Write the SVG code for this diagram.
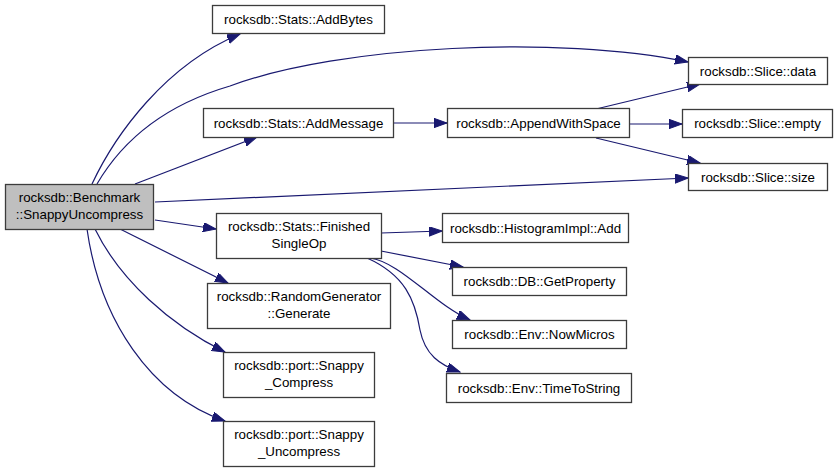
<svg xmlns="http://www.w3.org/2000/svg" width="837" height="472" viewBox="0 0 837 472">
<style>
.n rect{fill:#ffffff;stroke:#3c3c3c;stroke-width:1.3}
.n.main rect{fill:#bfbfbf}
.n text{font-family:"Liberation Sans",Arial,sans-serif;font-size:13.33px;fill:#000;text-anchor:middle}
.e path{fill:none;stroke:#191970;stroke-width:1.2;marker-end:url(#ah)}
</style>
<defs>
<marker id="ah" markerUnits="userSpaceOnUse" markerWidth="14" markerHeight="10" refX="13" refY="4.65" orient="auto">
<path d="M0,0 L13,4.65 L0,9.3 z" fill="#191970" stroke="#191970" stroke-width="1"/>
</marker>
</defs>
<rect width="837" height="472" fill="#ffffff"/>
<g id="edges" class="e">
<path d="M92,184 C115,135 165,65 240,34"/>
<path d="M97,184 C118,148 155,108 230,86 C340,45 560,35 688,62"/>
<path d="M596,109 L700,84"/>
<path d="M135,184 L257,137"/>
<path d="M393,123 L447,123"/>
<path d="M629,124 L682,124"/>
<path d="M596,138 L700,163"/>
<path d="M155,202 L688,178"/>
<path d="M155,220 L216,229"/>
<path d="M120,229 L228,283"/>
<path d="M95,229 C120,280 170,325 225,352"/>
<path d="M87,229 C100,320 150,395 225,421"/>
<path d="M381,233 L442,231"/>
<path d="M381,251 L463,267"/>
<path d="M370,258 C400,262 435,305 470,320"/>
<path d="M367,258 C405,275 415,300 420,330 C425,355 440,365 460,372"/>
</g>
<g id="main" class="n main"><rect x="5.5" y="184.5" width="148" height="45"/><text x="79.5" y="201.5">rocksdb::Benchmark</text><text x="79.5" y="218.5">::SnappyUncompress</text></g>
<g id="addbytes" class="n"><rect x="212.5" y="5.5" width="172" height="28"/><text x="298.5" y="24">rocksdb::Stats::AddBytes</text></g>
<g id="addmessage" class="n"><rect x="203.5" y="108.5" width="190" height="29"/><text x="298.5" y="127.5">rocksdb::Stats::AddMessage</text></g>
<g id="appendwithspace" class="n"><rect x="447.5" y="108.5" width="182" height="29"/><text x="538.5" y="127.5">rocksdb::AppendWithSpace</text></g>
<g id="slicedata" class="n"><rect x="688.5" y="57.5" width="139" height="27"/><text x="758" y="75.5">rocksdb::Slice::data</text></g>
<g id="sliceempty" class="n"><rect x="682.5" y="109.5" width="150" height="28"/><text x="757.5" y="128">rocksdb::Slice::empty</text></g>
<g id="slicesize" class="n"><rect x="688.5" y="163.5" width="139" height="27"/><text x="758" y="181.5">rocksdb::Slice::size</text></g>
<g id="finishedsingleop" class="n"><rect x="216.5" y="213.5" width="165" height="45"/><text x="299" y="230.5">rocksdb::Stats::Finished</text><text x="299" y="247.5">SingleOp</text></g>
<g id="randomgenerator" class="n"><rect x="207.5" y="283.5" width="183" height="45"/><text x="299" y="300.5">rocksdb::RandomGenerator</text><text x="299" y="317.5">::Generate</text></g>
<g id="snappycompress" class="n"><rect x="223.5" y="352.5" width="151" height="45"/><text x="299" y="369.5">rocksdb::port::Snappy</text><text x="299" y="386.5">_Compress</text></g>
<g id="snappyuncompress" class="n"><rect x="223.5" y="421.5" width="151" height="45"/><text x="299" y="438.5">rocksdb::port::Snappy</text><text x="299" y="455.5">_Uncompress</text></g>
<g id="histogramadd" class="n"><rect x="442.5" y="213.5" width="186" height="29"/><text x="535.5" y="232.5">rocksdb::HistogramImpl::Add</text></g>
<g id="getproperty" class="n"><rect x="452.5" y="267.5" width="174" height="28"/><text x="539.5" y="286">rocksdb::DB::GetProperty</text></g>
<g id="nowmicros" class="n"><rect x="452.5" y="320.5" width="174" height="28"/><text x="539.5" y="339">rocksdb::Env::NowMicros</text></g>
<g id="timetostring" class="n"><rect x="446.5" y="373.5" width="185" height="29"/><text x="539" y="392.5">rocksdb::Env::TimeToString</text></g>
</svg>
